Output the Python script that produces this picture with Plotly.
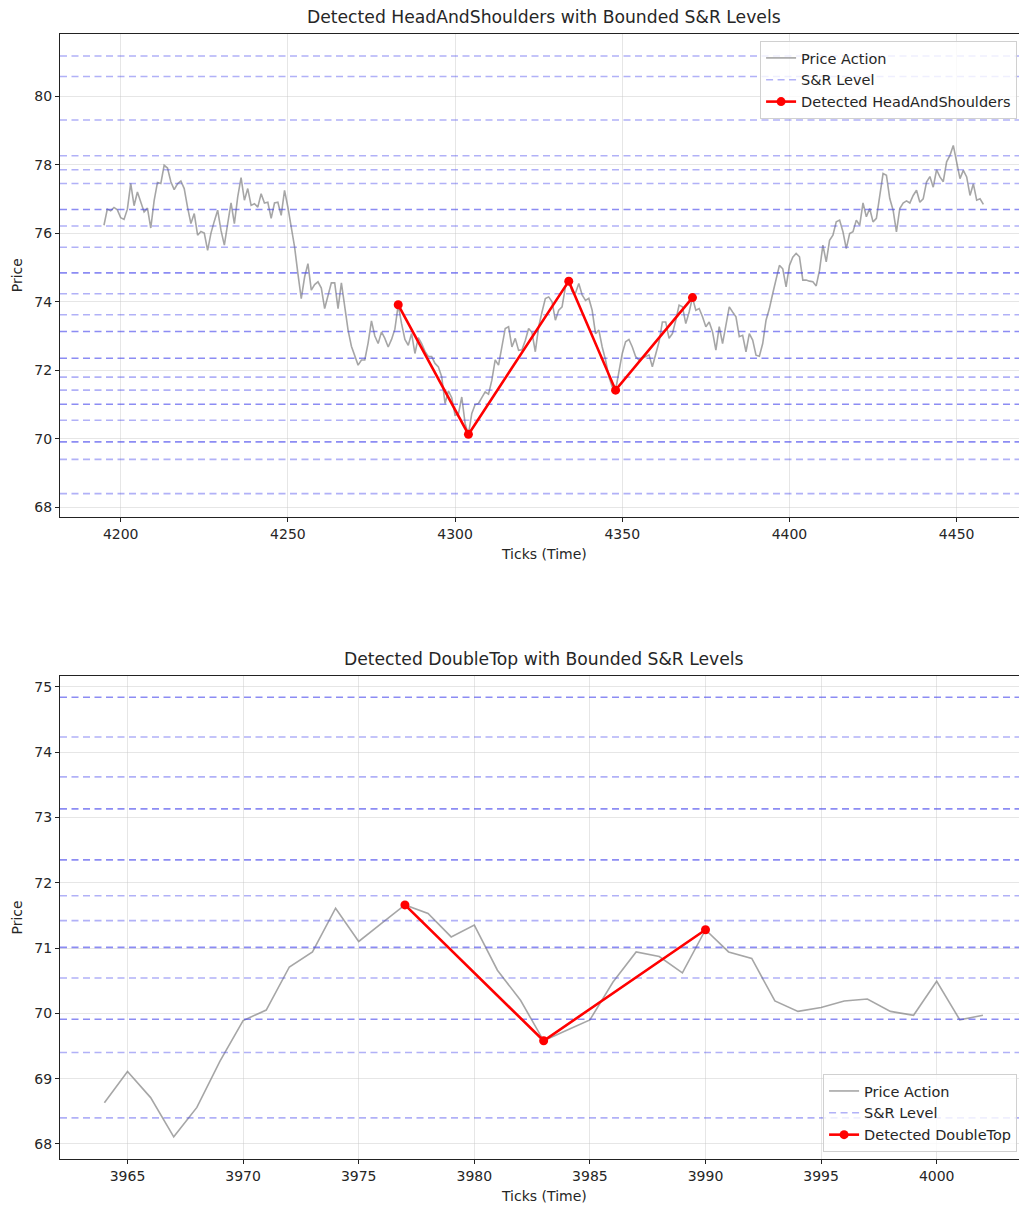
import plotly.graph_objects as go

# ---- Head-and-shoulders window (ticks 4195..4458) ----
hs_start = 4195
hs_price = [
    76.23, 76.70, 76.65, 76.75, 76.68, 76.45, 76.40, 76.70, 77.45, 76.80,  # 4195
    77.20, 76.90, 76.62, 76.73, 76.15, 76.95, 77.48, 77.45, 77.98, 77.90,  # 4205
    77.50, 77.27, 77.44, 77.52, 77.30, 76.75, 76.28, 76.57, 75.94, 76.05,  # 4215
    76.00, 75.50, 76.00, 76.35, 76.67, 76.08, 75.65, 76.28, 76.88, 76.28,  # 4225
    77.06, 77.62, 76.96, 77.30, 76.81, 76.86, 76.76, 77.15, 76.88, 76.90,  # 4235
    76.43, 76.88, 76.90, 76.52, 77.25, 76.76, 76.23, 75.60, 74.82, 74.09,  # 4245
    74.72, 75.11, 74.34, 74.50, 74.58, 74.40, 73.80, 74.19, 74.55, 74.55,  # 4255
    73.80, 74.55, 73.90, 73.17, 72.70, 72.39, 72.15, 72.30, 72.30, 72.80,  # 4265
    73.44, 73.00, 72.78, 73.12, 72.93, 72.68, 72.90, 73.20, 73.91, 73.36,  # 4275
    72.90, 72.73, 73.07, 72.49, 72.95, 72.78, 72.55, 72.40, 72.40, 72.20,  # 4285
    72.10, 71.81, 71.03, 71.40, 71.20, 70.69, 70.72, 71.22, 70.45, 70.13,  # 4295
    70.74, 71.00, 71.03, 71.20, 71.37, 71.30, 71.71, 72.30, 72.15, 72.68,  # 4305
    73.22, 73.27, 72.68, 72.93, 72.58, 72.60, 72.87, 73.22, 73.10, 72.54,  # 4315
    73.27, 73.70, 74.09, 74.14, 74.00, 73.46, 73.75, 73.85, 74.43, 74.60,  # 4325
    74.30, 74.25, 74.53, 74.20, 74.04, 74.10, 73.75, 73.07, 73.17, 72.68,  # 4335
    72.30, 71.81, 71.52, 71.42, 71.91, 72.49, 72.83, 72.90, 72.68, 72.40,  # 4345
    72.30, 72.35, 72.40, 72.45, 72.10, 72.50, 72.83, 73.41, 73.41, 72.93,  # 4355
    73.07, 73.46, 73.90, 73.85, 73.36, 73.70, 74.12, 73.75, 73.80, 73.56,  # 4365
    73.27, 73.41, 73.12, 72.59, 73.27, 72.78, 73.30, 73.85, 73.70, 73.56,  # 4375
    72.98, 73.02, 72.54, 73.07, 72.88, 72.44, 72.41, 72.78, 73.46, 73.80,  # 4385
    74.24, 74.70, 75.06, 74.96, 74.43, 75.06, 75.30, 75.41, 75.31, 74.63,  # 4395
    74.63, 74.60, 74.58, 74.46, 74.92, 75.65, 75.16, 75.79, 75.94, 76.33,  # 4405
    76.38, 76.04, 75.55, 75.99, 76.04, 76.38, 76.23, 76.88, 76.48, 76.72,  # 4415
    76.33, 76.43, 77.10, 77.74, 77.69, 77.01, 76.67, 76.04, 76.72, 76.88,  # 4425
    76.94, 76.88, 77.10, 77.25, 76.90, 77.00, 77.49, 77.65, 77.34, 77.85,  # 4435
    77.64, 77.50, 78.08, 78.27, 78.56, 78.02, 77.59, 77.83, 77.64, 77.10,  # 4445
    77.44, 76.96, 77.00, 76.84,                                            # 4455
]
hs_ticks = list(range(hs_start, hs_start + len(hs_price)))
hs_pattern_ticks = [4283, 4304, 4334, 4348, 4371]
hs_pattern_price = [73.91, 70.13, 74.60, 71.42, 74.12]

# ---- Double-top window (ticks 3964..4002) ----
dt_start = 3964
dt_price = [
    68.63, 69.11, 68.71, 68.11, 68.56, 69.27, 69.89, 70.05, 70.71, 70.94,  # 3964
    71.61, 71.10, 71.38, 71.66, 71.53, 71.17, 71.35, 70.66, 70.20, 69.58,  # 3974
    69.74, 69.90, 70.48, 70.94, 70.87, 70.62, 71.28, 70.94, 70.84, 70.19,  # 3984
    70.03, 70.09, 70.19, 70.22, 70.03, 69.97, 70.49, 69.90, 69.97,        # 3994
]
dt_ticks = list(range(dt_start, dt_start + len(dt_price)))
dt_pattern_ticks = [3977, 3983, 3990]
dt_pattern_price = [71.66, 69.58, 71.28]

# ---- Support & resistance levels ----
sr_levels = [81.17, 80.57, 79.30, 78.26, 77.85, 77.45, 76.69, 76.21, 75.59,
             74.84, 74.23, 73.62, 73.13, 72.35, 71.80, 71.42, 71.01, 70.54,
             69.91, 69.40, 68.40]
sr_strong = [76.69, 74.84, 72.35, 71.01, 73.13, 69.91]

FONT = "DejaVu Sans"
TXT = "#262626"
GREY = "rgba(128,128,128,0.7)"
SR_COL = "rgba(70,70,235,0.42)"
SR_COL_STRONG = "rgba(70,70,235,0.62)"
SR_DASH = "7px,4.5px"

fig = go.Figure()


def level_xy(levels, x_lo, x_hi):
    xs, ys = [], []
    for lv in levels:
        xs += [x_lo, x_hi, None]
        ys += [lv, lv, None]
    return xs, ys


def add_panel(xa, ya, legend, ticks, price, pt, pp, pname, xr, yr):
    fig.add_trace(go.Scatter(x=ticks, y=price, mode="lines", name="Price Action",
                             line=dict(color=GREY, width=1.6),
                             xaxis=xa, yaxis=ya, legend=legend))
    visible = [lv for lv in sr_levels if yr[0] <= lv <= yr[1]]
    normal = [lv for lv in visible if lv not in sr_strong]
    strong = [lv for lv in visible if lv in sr_strong]
    xs, ys = level_xy(normal, xr[0], xr[1])
    fig.add_trace(go.Scatter(x=xs, y=ys, mode="lines", name="S&R Level",
                             line=dict(color=SR_COL, width=1.6, dash=SR_DASH),
                             xaxis=xa, yaxis=ya, legend=legend))
    xs, ys = level_xy(strong, xr[0], xr[1])
    fig.add_trace(go.Scatter(x=xs, y=ys, mode="lines", name="S&R Level", showlegend=False,
                             line=dict(color=SR_COL_STRONG, width=1.6, dash=SR_DASH),
                             xaxis=xa, yaxis=ya, legend=legend))
    fig.add_trace(go.Scatter(x=pt, y=pp, mode="lines+markers", name=pname,
                             line=dict(color="#ff0000", width=2.6),
                             marker=dict(color="#ff0000", size=9),
                             xaxis=xa, yaxis=ya, legend=legend))


hs_xr, hs_yr = [4181.85, 4468.65], [67.73, 81.81]
dt_xr, dt_yr = [3962.08, 4003.56], [67.77, 75.164]

add_panel("x", "y", "legend", hs_ticks, hs_price, hs_pattern_ticks, hs_pattern_price,
          "Detected HeadAndShoulders", hs_xr, hs_yr)
add_panel("x2", "y2", "legend2", dt_ticks, dt_price, dt_pattern_ticks, dt_pattern_price,
          "Detected DoubleTop", dt_xr, dt_yr)

axis_common = dict(showline=True, linecolor="#222", linewidth=1.2,
                   ticks="outside", ticklen=4, tickcolor="#222", tickwidth=1,
                   showgrid=True, gridcolor="rgba(200,200,200,0.45)", gridwidth=1,
                   zeroline=False, tickfont=dict(family=FONT, size=14, color=TXT))

legend_common = dict(bgcolor="rgba(255,255,255,0.8)", bordercolor="#d0d0d0", borderwidth=1,
                     font=dict(family=FONT, size=14.5, color=TXT), xanchor="right",
                     tracegroupgap=0, itemwidth=30)

fig.update_layout(
    width=1019, height=1205,
    margin=dict(l=60, r=0, t=34, b=46),
    paper_bgcolor="white", plot_bgcolor="white",
    showlegend=True,
    xaxis=dict(domain=[0, 1], anchor="y", range=hs_xr, dtick=50,
               mirror=True, **axis_common),
    yaxis=dict(domain=[0.571, 1], anchor="x", range=hs_yr, dtick=2, **axis_common),
    xaxis2=dict(domain=[0, 1], anchor="y2", range=dt_xr, dtick=5,
                mirror=True, **axis_common),
    yaxis2=dict(domain=[0, 0.4293], anchor="x2", range=dt_yr, dtick=1,
                **axis_common),
    legend=dict(x=0.998, y=0.9938, yanchor="top", **legend_common),
    legend2=dict(x=0.998, y=0.0062, yanchor="bottom", **legend_common),
)

# panel titles and axis labels
title_font = dict(family=FONT, size=17.2, color=TXT)
label_font = dict(family=FONT, size=14, color=TXT)
cx = (543.5 - 60) / 959
for ydom_top, ydom_bot, title in [(1.0, 0.571, "Detected HeadAndShoulders with Bounded S&R Levels"),
                                  (0.4293, 0.0, "Detected DoubleTop with Bounded S&R Levels")]:
    fig.add_annotation(text=title, xref="paper", yref="paper", x=cx, y=ydom_top,
                       xanchor="center", yanchor="bottom", yshift=5, showarrow=False,
                       font=title_font)
    fig.add_annotation(text="Ticks (Time)", xref="paper", yref="paper", x=cx, y=ydom_bot,
                       xanchor="center", yanchor="top", yshift=-27, showarrow=False,
                       font=label_font)
    fig.add_annotation(text="Price", xref="paper", yref="paper", x=0, xshift=-43,
                       y=(ydom_top + ydom_bot) / 2, xanchor="center", yanchor="middle",
                       textangle=-90, showarrow=False, font=label_font)

fig.write_html("out.html")
